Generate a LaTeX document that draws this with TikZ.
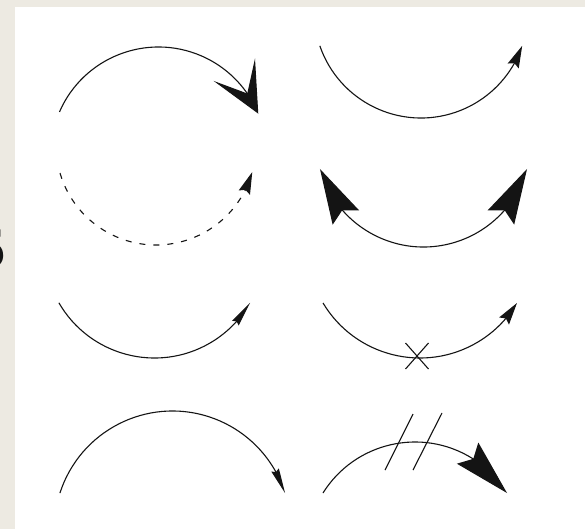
\documentclass[tikz,border=0pt]{standalone}
\usepackage{fontspec}
\newfontfamily\fragfont{DejaVu Sans}
\usetikzlibrary{arrows.meta,bending}
\definecolor{bgbeige}{RGB}{237,234,226}
\definecolor{inkc}{RGB}{20,20,20}
\tikzset{
  arcline/.style={draw=inkc, line width=1.1pt},
  bigtip/.style={-{Stealth[length=50pt,width=47pt,inset=27pt,flex]}},
  smalltip/.style={-{Stealth[length=22pt,width=12pt,inset=3pt,flex]}},
  thintip/.style={-{Stealth[length=25pt,width=8pt,inset=2pt,flex]}},
  longtip/.style={{Stealth[length=55pt,width=30pt,inset=8pt,flex]}-{Stealth[length=55pt,width=30pt,inset=8pt,flex]}},
  longtipend/.style={-{Stealth[length=56pt,width=30pt,inset=8pt,flex]}},
  hashmark/.style={draw=inkc, line width=1.1pt}
}
\begin{document}
\begin{tikzpicture}[x=1pt,y=-1pt]
\useasboundingbox (0,0) rectangle (585,529);
\fill[bgbeige] (0,0) rectangle (585,529);
\fill[white] (15,7) rectangle (585,529);
% cut-off glyph at the left edge
\begin{scope}
  \clip (0,0) rectangle (15,529);
  \node[anchor=base east, inner sep=0pt, text=inkc, font=\fragfont\bfseries\fontsize{53pt}{53pt}\selectfont] (frag) at (8,268) {5};
\end{scope}
% row 1 left
\draw[arcline, bigtip] (158.5,155) ++(-156.5:108) arc[start angle=-156.5, end angle=-22.5, radius=108];
% row 1 right
\draw[arcline, smalltip] (421,11) ++(161:107) arc[start angle=161, end angle=19, radius=107];
% row 2 left (dashed)
\draw[arcline, smalltip, dash pattern=on 6pt off 8pt] (156,145) ++(163.7:100) arc[start angle=163.7, end angle=15.7, radius=100];
% row 2 right (double)
\draw[arcline, longtip] (423.5,139.3) ++(164:107.7) arc[start angle=164, end angle=16, radius=107.7];
% row 3 left
\draw[arcline, thintip] (154.5,247.6) ++(150:110.4) arc[start angle=150, end angle=30, radius=110.4];
% row 3 right with cross
\draw[arcline, smalltip] (420,245) ++(149.1:113) arc[start angle=149.1, end angle=30.9, radius=113];
\coordinate (x1) at (405.5,343);
\coordinate (x2) at (428.5,369);
\coordinate (x3) at (428.5,343);
\coordinate (x4) at (405.5,369);
\draw[hashmark] (x1) -- (x2);
\draw[hashmark] (x3) -- (x4);
% row 4 left
\draw[arcline, thintip] (172.5,529.2) ++(-162.2:118.2) arc[start angle=-162.2, end angle=-17.8, radius=118.2];
% row 4 right with hash marks
\draw[arcline, longtipend] (415,550.5) ++(-148:108.5) arc[start angle=-148, end angle=-32, radius=108.5];
\coordinate (h1a) at (413,414);
\coordinate (h1b) at (385,470);
\coordinate (h2a) at (442,413);
\coordinate (h2b) at (413,470);
\draw[hashmark] (h1a) -- (h1b);
\draw[hashmark] (h2a) -- (h2b);
\end{tikzpicture}
\end{document}
